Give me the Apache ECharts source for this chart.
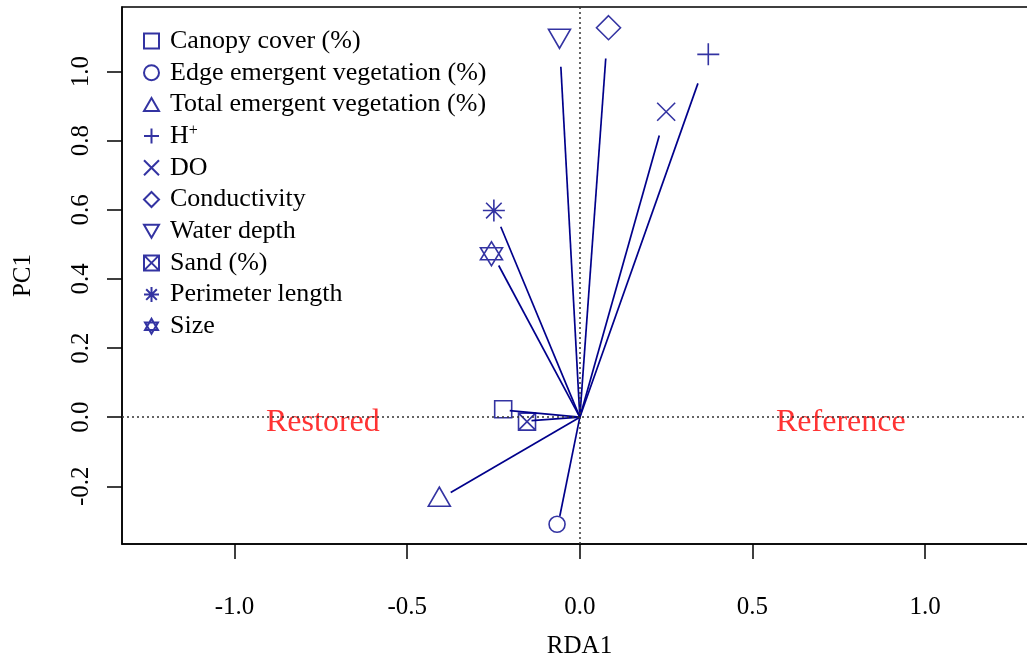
<!DOCTYPE html>
<html>
<head>
<meta charset="utf-8">
<script src="https://cdn.jsdelivr.net/npm/echarts@6/dist/echarts.min.js"></script>
<style>
  html, body { margin: 0; padding: 0; background: #fff; }
  #rda { width: 1027px; height: 656px; }
</style>
</head>
<body>
<div id="rda"></div>
<script>
// variables of the RDA biplot
var varNames = ['Canopy cover (%)', 'Edge emergent vegetation (%)', 'Total emergent vegetation (%)',
  'H+', 'DO', 'Conductivity', 'Water depth', 'Sand (%)', 'Perimeter length', 'Size'];
// end of each vector line
var lineEndX = [-0.203, -0.058, -0.374, 0.342, 0.230, 0.075, -0.055, -0.140, -0.229, -0.235];
var lineEndY = [0.019, -0.286, -0.218, 0.966, 0.815, 1.038, 1.014, -0.010, 0.551, 0.439];
// position of each symbol
var symX = [-0.222, -0.066, -0.407, 0.372, 0.250, 0.083, -0.059, -0.153, -0.249, -0.256];
var symY = [0.023, -0.310, -0.230, 1.050, 0.884, 1.127, 1.095, -0.013, 0.598, 0.473];
// group labels
var groupText = ['Restored', 'Reference'];
var groupX = [-0.75, 0.75];
var groupY = [0, 0];
// ticks
var xTicks = [-1.0, -0.5, 0.0, 0.5, 1.0];
var yTicks = [-0.2, 0.0, 0.2, 0.4, 0.6, 0.8, 1.0];

var navy = '#00008B';
var serif = 'Liberation Serif';

// R pch symbols 0..8, 11
var symbols = [
  'path://M0,0L10,0L10,10L0,10Z',
  'circle',
  'path://M5,0L10,8.66L0,8.66Z',
  'path://M5,0L5,10M0,5L10,5',
  'path://M0,0L10,10M10,0L0,10',
  'path://M5,0L10,5L5,10L0,5Z',
  'path://M0,0L10,0L5,8.66Z',
  'path://M0,0L10,0L10,10L0,10ZM0,0L10,10M10,0L0,10',
  'path://M5,0L5,10M0,5L10,5M1.46,1.46L8.54,8.54M8.54,1.46L1.46,8.54',
  'path://M5,0L10,8.66L0,8.66ZM0,2.89L10,2.89L5,11.55Z'
];
var symSizes = [[17, 17], [16, 16], [22, 19], [22, 22], [18, 18], [24, 24], [22, 19], [17, 17], [22, 22], [22, 24]];

var myChart = echarts.init(document.getElementById('rda'));

var series = [];
// vector lines from the origin
series.push({
  type: 'lines',
  coordinateSystem: 'cartesian2d',
  silent: true,
  z: 2,
  lineStyle: { color: navy, width: 1.7, opacity: 1 },
  data: lineEndX.map(function (x, i) {
    return { coords: [[0, 0], [x, lineEndY[i]]] };
  })
});
// dotted zero lines
series.push({
  type: 'scatter',
  data: [],
  silent: true,
  markLine: {
    silent: true,
    symbol: 'none',
    label: { show: false },
    lineStyle: { color: '#333', type: [2, 3], width: 1.5 },
    data: [{ xAxis: 0 }, { yAxis: 0 }]
  }
});
// symbols
for (var i = 0; i < varNames.length; i++) {
  series.push({
    name: varNames[i],
    type: 'scatter',
    z: 3,
    symbol: symbols[i],
    symbolSize: symSizes[i],
    itemStyle: { color: 'rgba(0,0,0,0)', borderColor: navy, borderWidth: 1.6 },
    emphasis: { disabled: true },
    data: [[symX[i], symY[i]]]
  });
}
// Restored / Reference labels
series.push({
  type: 'scatter',
  symbolSize: 0,
  silent: true,
  z: 4,
  label: {
    show: true,
    position: 'inside',
    offset: [2, 5],
    color: '#ff0000',
    fontFamily: serif,
    fontSize: 32,
    formatter: function (p) { return groupText[p.dataIndex]; }
  },
  data: groupX.map(function (x, i) { return [x, groupY[i]]; })
});

var option = {
  animation: false,
  backgroundColor: '#fff',
  grid: {
    left: 122, top: 7, right: -10, bottom: 112,
    outerBoundsMode: 'none',
    show: true, borderColor: '#000', borderWidth: 1.5
  },
  legend: {
    orient: 'vertical',
    left: 138,
    top: 23,
    itemWidth: 15,
    itemHeight: 15,
    itemGap: 5.7,
    selectedMode: false,
    data: varNames.map(function (n, i) { return { name: n, icon: symbols[i] }; }),
    formatter: function (n) { return n === 'H+' ? 'H{sup|+}' : n; },
    textStyle: {
      fontFamily: serif,
      fontSize: 26,
      lineHeight: 26,
      color: '#000',
      padding: [0, 0, 0, 6],
      rich: {
        sup: { fontFamily: serif, fontSize: 16, lineHeight: 16, verticalAlign: 'top', padding: [0, 0, 10, 0] }
      }
    }
  },
  xAxis: {
    type: 'value',
    min: -1.326,
    max: 1.324,
    name: 'RDA1',
    nameLocation: 'middle',
    nameGap: 90,
    nameTextStyle: { fontFamily: serif, fontSize: 25, color: '#000' },
    axisLine: { onZero: false, lineStyle: { color: '#000', width: 1.5 } },
    axisTick: { length: 15, customValues: xTicks, lineStyle: { color: '#000', width: 1.5 } },
    axisLabel: {
      customValues: xTicks, margin: 51, fontFamily: serif, fontSize: 25, color: '#000',
      formatter: function (v) { return v.toFixed(1); }
    },
    splitLine: { show: false }
  },
  yAxis: {
    type: 'value',
    min: -0.367,
    max: 1.187,
    name: 'PC1',
    nameLocation: 'middle',
    nameGap: 86,
    nameTextStyle: { fontFamily: serif, fontSize: 25, color: '#000' },
    axisLine: { onZero: false, lineStyle: { color: '#000', width: 1.5 } },
    axisTick: { length: 15, customValues: yTicks, lineStyle: { color: '#000', width: 1.5 } },
    axisLabel: {
      customValues: yTicks, margin: 28, rotate: 90, fontFamily: serif, fontSize: 25, color: '#000',
      formatter: function (v) { return v.toFixed(1); }
    },
    splitLine: { show: false }
  },
  series: series
};

myChart.setOption(option);
window.addEventListener('resize', function () {
  myChart.resize();
});
</script>
</body>
</html>
